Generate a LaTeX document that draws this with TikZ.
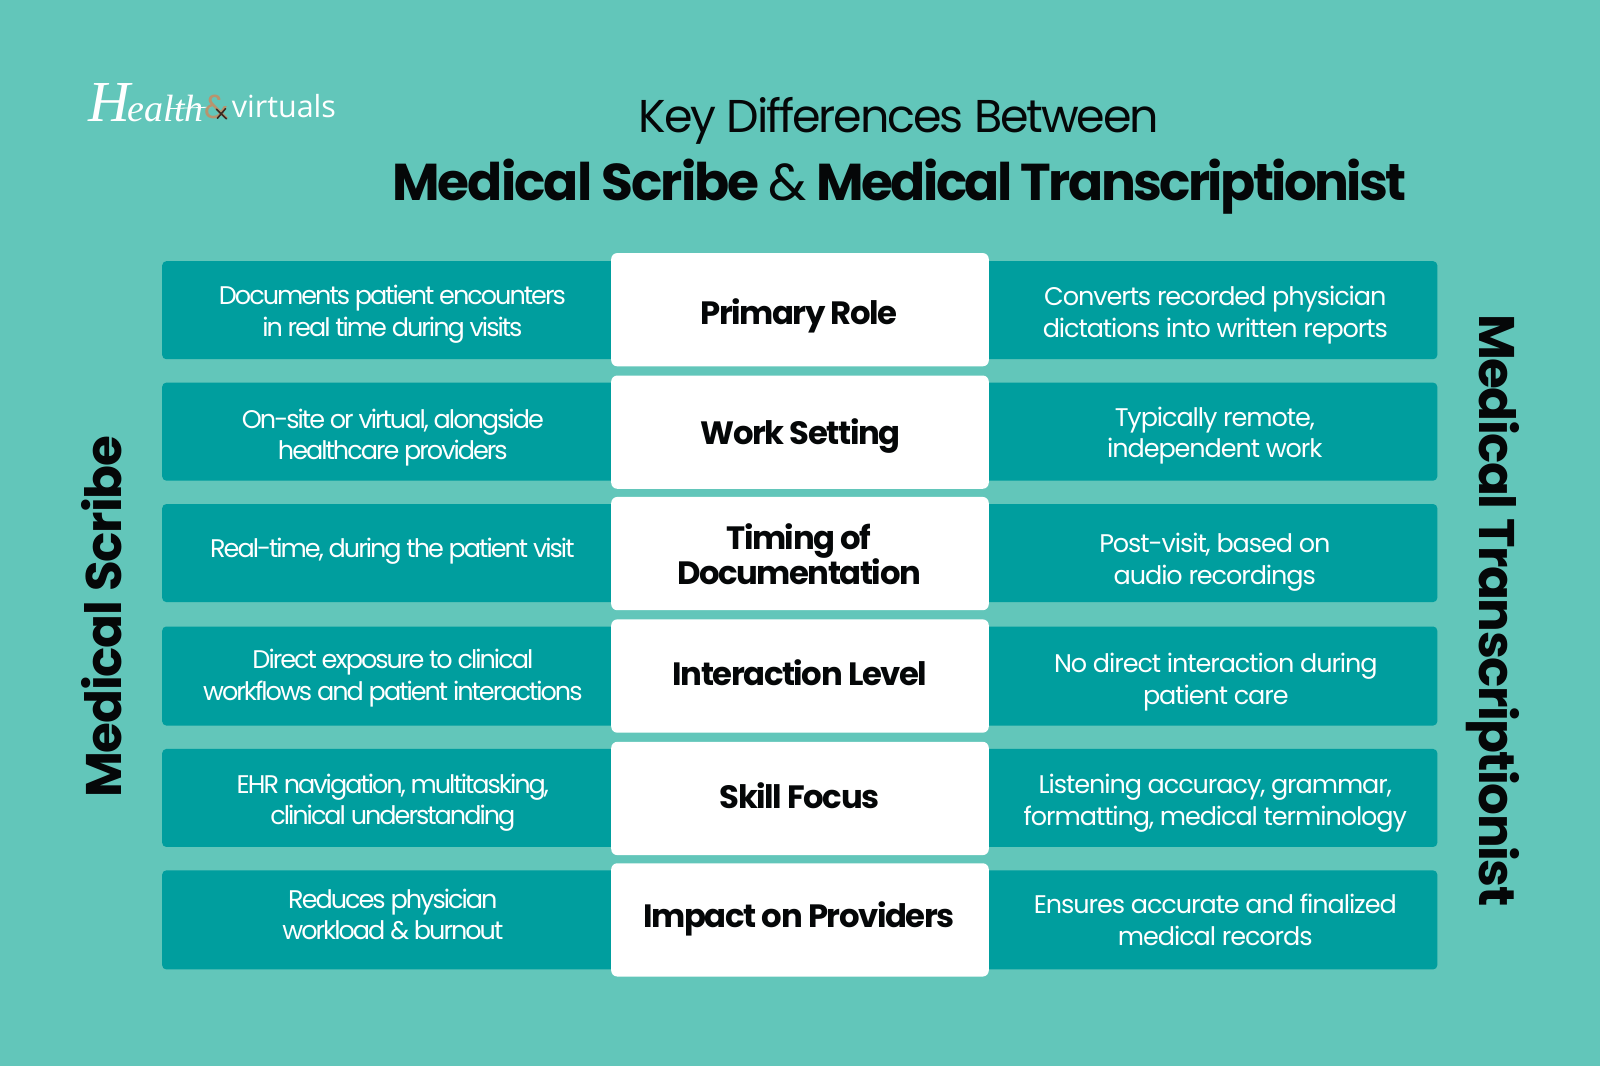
\documentclass[tikz,border=0pt]{standalone}
\usepackage{fontspec}
\setmainfont{Poppins}
\newfontfamily\logoscript{Liberation Serif}
\newfontfamily\logosans{Open Sans}
\newfontfamily\righttrack{Poppins}[LetterSpace=-4.2]
\newfontfamily\lefttrack{Poppins}[LetterSpace=-7.8]
\newfontfamily\sidetrack{Poppins}[LetterSpace=-2.5]
\newfontfamily\sidetrackb{Poppins}[LetterSpace=-3]
\newfontfamily\headtrack{Poppins}[LetterSpace=-4.6]
\newfontfamily\tighter{Poppins}[LetterSpace=-4.5]
\newfontfamily\headscribe{Poppins}[LetterSpace=-3.7]
\newfontfamily\headtrans{Poppins}[LetterSpace=-5.05]
\definecolor{bgteal}{HTML}{62C6BA}
\definecolor{boxteal}{HTML}{009E9E}
\definecolor{inkblack}{HTML}{050708}
\definecolor{logotan}{HTML}{B8946E}
\definecolor{logodark}{HTML}{3A2A22}
\tikzset{
  sidebox/.style={fill=boxteal,draw=none,rounded corners=4pt},
  midbox/.style={fill=white,draw=none,rounded corners=6pt},
  celltext/.style={text=white,align=center,inner sep=0pt},
  lefttext/.style={celltext,font=\lefttrack\fontsize{25.5}{31.5}\selectfont},
  righttext/.style={celltext,font=\righttrack\fontsize{25.5}{31.5}\selectfont},
  midtext/.style={text=inkblack,align=center,font=\tighter\bfseries\fontsize{32.3}{34}\selectfont,inner sep=0pt},
}
\begin{document}
\begin{tikzpicture}[x=1.0204pt,y=-1.0204pt]
\useasboundingbox (0,0) rectangle (1568,1044.7);
\fill[bgteal] (0,0) rectangle (1568,1044.7);
% logo
\node[anchor=base west,inner sep=0pt,text=white] (logoa) at (87,119) {\logoscript\itshape\fontsize{58}{58}\selectfont H\kern-3pt\fontsize{38}{38}\selectfont ealth};
\draw[white,line width=0.8pt] (165,106.5) -- (206,105);
\node[anchor=base west,inner sep=0pt,text=logotan] (logob) at (200,116.5) {\fontsize{33}{33}\selectfont\&};
\draw[logodark,line width=1.6pt,line cap=round] (212,107) -- (222,116.5) (221,106.5) -- (213,116);
\node[anchor=base west,inner sep=0pt,text=white] (logoc) at (227,115) {\logosans\fontsize{30.5}{30.5}\selectfont virtuals};
% title
\node[text=inkblack,inner sep=0pt,anchor=base] (t1) at (881,130) {\headtrack\fontsize{46}{50}\selectfont Key Differences Between};
\node[text=inkblack,inner sep=0pt,anchor=base] (t2) at (881.5,196) {\fontsize{51.8}{54}\selectfont{\headscribe\bfseries Medical Scribe} \kern-4.5pt{\tighter\&} \kern-4.5pt{\headtrans\bfseries Medical Transcriptionist}};
% side titles
\node[text=inkblack,inner sep=0pt,rotate=90,font=\sidetrack\bfseries\fontsize{50}{54}\selectfont] (ms) at (99.5,604.5) {Medical Scribe};
\node[text=inkblack,inner sep=0pt,rotate=-90,font=\sidetrackb\bfseries\fontsize{50}{54}\selectfont] (mt) at (1463,598) {Medical Transcriptionist};
% rows
\foreach \top/\bot/\mtop/\mbot [count=\i] in {256/352/248/359,375/471/368/479,494/590/487/598,614/711/607/718,734/830/727/838,853/950/846/957}{
  \fill[sidebox] (159,\top) rectangle (610,\bot);
  \fill[sidebox] (958,\top) rectangle (1408.5,\bot);
  \fill[midbox] (599,\mtop) rectangle (969,\mbot);
}
\node[lefttext] (l1) at (384.5,308) {Documents patient encounters\\in real time during visits};
\node[lefttext] (l2) at (385,429) {On-site or virtual, alongside\\healthcare providers};
\node[lefttext] (l3) at (384.5,540) {Real-time, during the patient visit};
\node[lefttext] (l4) at (385,664.5) {Direct exposure to clinical\\workflows and patient interactions};
\node[lefttext] (l5) at (385,786.7) {EHR navigation, multitasking,\\clinical understanding};
\node[lefttext] (l6) at (385,896) {Reduces physician\\workload \& burnout};
\node[righttext] (r1) at (1191,309) {Converts recorded physician\\dictations into written reports};
\node[righttext] (r2) at (1190.5,427) {Typically remote,\\independent work};
\node[righttext] (r3) at (1190.5,551) {Post-visit, based on\\audio recordings};
\node[righttext] (r4) at (1191.5,668.5) {No direct interaction during\\patient care};
\node[righttext] (r5) at (1191,787) {Listening accuracy, grammar,\\formatting, medical terminology};
\node[righttext] (r6) at (1191,901.5) {Ensures accurate and finalized\\medical records};
\node[midtext] (m1) at (783,310) {Primary Role};
\node[midtext] (m2) at (784.5,427) {Work Setting};
\node[midtext] (m3) at (783,543) {Timing of\\Documentation};
\node[midtext] (m4) at (784,659) {Interaction Level};
\node[midtext] (m5) at (783.5,780) {Skill Focus};
\node[midtext] (m6) at (783,900) {Impact on Providers};
\end{tikzpicture}
\end{document}
